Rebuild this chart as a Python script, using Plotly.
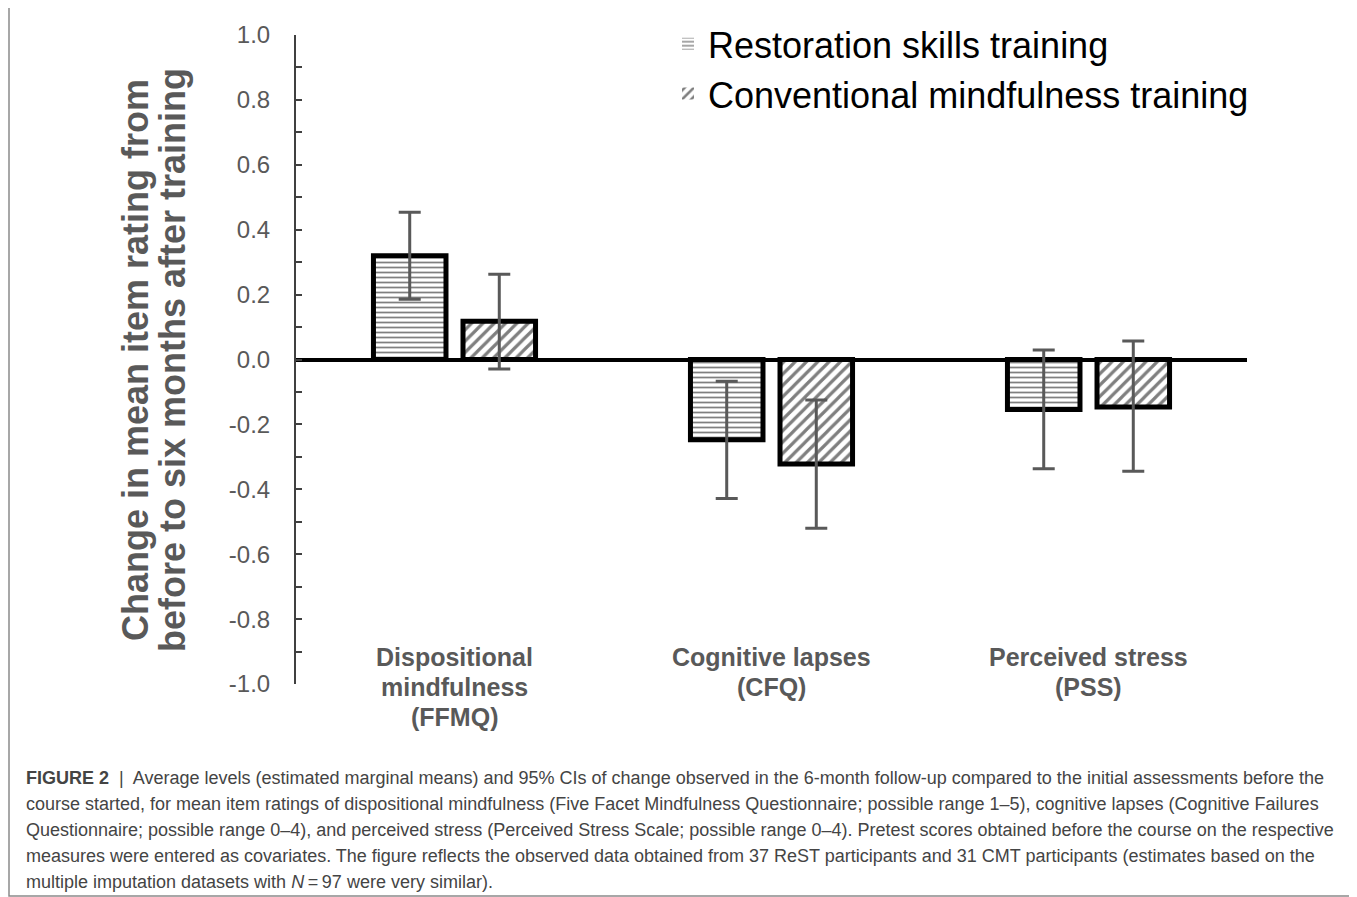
import plotly.graph_objects as go

# ---------------- data ----------------
categories = ["Dispositional mindfulness (FFMQ)", "Cognitive lapses (CFQ)", "Perceived stress (PSS)"]
category_label_lines = [["Dispositional", "mindfulness", "(FFMQ)"],
                        ["Cognitive lapses", "(CFQ)"],
                        ["Perceived stress", "(PSS)"]]
series_names = ["Restoration skills training", "Conventional mindfulness training"]

rest_mean = [0.320, -0.247, -0.154]
rest_upper = [0.454, -0.067, 0.029]
rest_lower = [0.186, -0.428, -0.337]

cmt_mean = [0.118, -0.322, -0.146]
cmt_upper = [0.263, -0.125, 0.057]
cmt_lower = [-0.029, -0.520, -0.344]

tick_vals = [1.0, 0.8, 0.6, 0.4, 0.2, 0.0, -0.2, -0.4, -0.6, -0.8, -1.0]
tick_text = ["1.0", "0.8", "0.6", "0.4", "0.2", "0.0", "-0.2", "-0.4", "-0.6", "-0.8", "-1.0"]

y_title_lines = ["Change in mean item rating from", "before to six months after training"]

caption_lines = [
    "<b>FIGURE 2</b>  |  Average levels (estimated marginal means) and 95% CIs of change observed in the 6-month follow-up compared to the initial assessments before the",
    "course started, for mean item ratings of dispositional mindfulness (Five Facet Mindfulness Questionnaire; possible range 1\u20135), cognitive lapses (Cognitive Failures",
    "Questionnaire; possible range 0\u20134), and perceived stress (Perceived Stress Scale; possible range 0\u20134). Pretest scores obtained before the course on the respective",
    "measures were entered as covariates. The figure reflects the observed data obtained from 37 ReST participants and 31 CMT participants (estimates based on the",
    "multiple imputation datasets with <i>N</i>\u2009=\u200997 were very similar).",
]

# ---------------- layout geometry (pixels in the final screenshot) ----------------
OFF = 8  # page body margin
W, H = 1357 - OFF, 897 - OFF
PL, PR, PT, PB = 296, 1247, 35, 684
PW, PH = PR - PL, PB - PT


def px(x):
    return (x - PL) / PW


def py(y):
    return (PB - y) / PH


GRAY_TXT = "#595959"
AXIS_COL = "#404040"
ERR_COL = "#595959"
FONT = "Arial, Liberation Sans, sans-serif"

fig = go.Figure()


def add_series(name, group, mean, upper, lower, shape, size, solidity):
    pattern = dict(shape=shape, fgcolor="black", bgcolor="white",
                   size=size, solidity=solidity, fillmode="overlay")
    fig.add_trace(go.Bar(
        name=name,
        x=categories,
        y=mean,
        showlegend=False,
        legendgroup=name,
        offsetgroup=group,
        marker=dict(color="white", line=dict(color="black", width=5), pattern=pattern),
        error_y=dict(type="data", symmetric=False,
                     array=[u - m for u, m in zip(upper, mean)],
                     arrayminus=[m - l for m, l in zip(mean, lower)],
                     color=ERR_COL, thickness=3, width=11),
    ))
    # legend entry (pattern swatch without border, like the original key)
    fig.add_trace(go.Bar(
        name=name, x=[None], y=[None], legendgroup=name, showlegend=True,
        offsetgroup=group,
        marker=dict(color="white", line=dict(color="black", width=0), pattern=pattern),
    ))


add_series(series_names[0], "rest", rest_mean, rest_upper, rest_lower, "-", 5, 0.35)
add_series(series_names[1], "cmt", cmt_mean, cmt_upper, cmt_lower, "/", 8, 0.4)

annotations = []
# y-axis title (two lines, separate to control line spacing)
for line, cx in zip(y_title_lines, [135, 172]):
    annotations.append(dict(
        text="<b>%s</b>" % line, textangle=-90, showarrow=False,
        xref="paper", yref="paper", x=px(cx), y=py(360),
        xanchor="center", yanchor="middle",
        font=dict(family=FONT, size=36, color=GRAY_TXT)))

# category labels
for cat, lines in zip(categories, category_label_lines):
    for j, line in enumerate(lines):
        annotations.append(dict(
            text="<b>%s</b>" % line, showarrow=False,
            xref="x", yref="paper", x=cat, y=py(657 + 30 * j),
            xanchor="center", yanchor="middle",
            font=dict(family=FONT, size=25, color=GRAY_TXT)))

# caption
for k, line in enumerate(caption_lines):
    annotations.append(dict(
        text=line, showarrow=False,
        xref="paper", yref="paper", x=px(24), y=py(778 + 26 * k),
        xanchor="left", yanchor="middle",
        font=dict(family=FONT, size=18, color="#444444")))

shapes = [dict(type="rect", xref="paper", yref="paper",
               x0=px(9), x1=px(1354), y0=py(7), y1=py(896),
               line=dict(color="#8a8a8a", width=1.5), fillcolor="rgba(0,0,0,0)",
               layer="below")]

fig.update_layout(
    width=W, height=H,
    margin=dict(l=PL - OFF, r=(W + OFF) - PR, t=PT - OFF, b=(H + OFF) - PB, autoexpand=False),
    paper_bgcolor="white", plot_bgcolor="white",
    barmode="group", bargap=0.435, bargroupgap=0.19,
    showlegend=True,
    legend=dict(x=1.0 + 7 / PW, xanchor="right", y=1.035 - 1.5 / PH, yanchor="top",
                bgcolor="rgba(0,0,0,0)", borderwidth=0,
                font=dict(family=FONT, size=36, color="black"),
                tracegroupgap=0, itemwidth=30),
    xaxis=dict(range=[-0.5, 2.5], showticklabels=False, showline=False,
               ticks="", showgrid=False, zeroline=False),
    yaxis=dict(range=[-1, 1], tickmode="array", tickvals=tick_vals, ticktext=tick_text,
               ticks="inside", ticklen=6, tickwidth=2, tickcolor=AXIS_COL,
               showline=True, linecolor=AXIS_COL, linewidth=2,
               minor=dict(ticks="inside", ticklen=6, tickwidth=2, tickcolor=AXIS_COL,
                          tickmode="linear", tick0=0, dtick=0.1),
               showgrid=False, zeroline=True, zerolinecolor="black", zerolinewidth=4,
               tickfont=dict(family=FONT, size=24, color=GRAY_TXT),
               ticklabelstandoff=19),
    annotations=annotations,
    shapes=shapes,
)

fig.write_html("out.html")
